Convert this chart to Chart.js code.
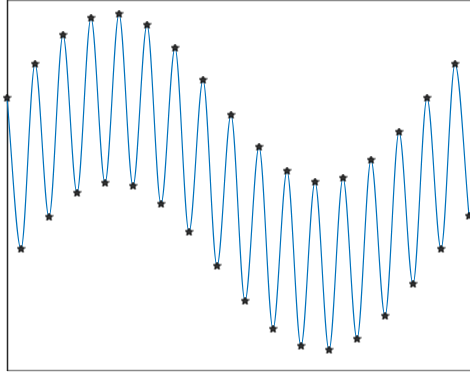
<!DOCTYPE html>
<html>
<head>
<meta charset="utf-8">
<script src="https://cdn.jsdelivr.net/npm/chart.js@4/dist/chart.umd.min.js"></script>
<style>
	html, body { margin: 0; padding: 0; background: #fff; }
	#chart { display: block; }
</style>
</head>
<body>
<canvas id="chart" width="470" height="372"></canvas>
<script>
// sample positions (one every half-period) and the values
const sampleIndex = [
	0, 1, 2, 3, 4, 5, 6, 7, 8, 9, 10, 11, 12, 13, 14, 15, 16,
	17, 18, 19, 20, 21, 22, 23, 24, 25, 26, 27, 28, 29, 30, 31, 32, 33
];
const signalValues = [
	272, 121, 306, 153, 335, 177, 352, 187, 356, 184, 345, 166, 322, 138, 290, 104, 255,
	69, 223, 41, 199, 24, 188, 20, 192, 31, 210, 54, 238, 86, 272, 121, 306, 154
];
const yRange = [0, 370];
const xRange = [0, 33.07];

// five point star marker
function makeStar(size) {
	const c = document.createElement("canvas");
	c.width = size;
	c.height = size;
	const ctx = c.getContext("2d");
	const cx = size / 2, cy = size / 2;
	const outer = size / 2 - 0.5, inner = outer * 0.45;
	ctx.beginPath();
	for (let i = 0; i < 10; i++) {
		const r = i % 2 == 0 ? outer : inner;
		const a = -Math.PI / 2 + i * Math.PI / 5;
		const px = cx + r * Math.cos(a);
		const py = cy + r * Math.sin(a);
		if (i == 0) ctx.moveTo(px, py); else ctx.lineTo(px, py);
	}
	ctx.closePath();
	ctx.fillStyle = "#333";
	ctx.fill();
	ctx.lineWidth = 1;
	ctx.strokeStyle = "#000";
	ctx.stroke();
	return c;
}
const starMarker = makeStar(9);

// axes box: dark left edge, grey top and bottom
const boxPlugin = {
	id: "box",
	beforeDatasetsDraw(chart) {
		const { ctx, chartArea } = chart;
		ctx.save();
		ctx.lineWidth = 1.5;
		ctx.strokeStyle = "#8a8a8a";
		ctx.beginPath();
		ctx.moveTo(chartArea.left, chartArea.top + 0.5);
		ctx.lineTo(chartArea.right, chartArea.top + 0.5);
		ctx.moveTo(chartArea.left, chartArea.bottom + 0.5);
		ctx.lineTo(chartArea.right, chartArea.bottom + 0.5);
		ctx.stroke();
		ctx.strokeStyle = "#262626";
		ctx.beginPath();
		ctx.moveTo(chartArea.left + 0.5, chartArea.top);
		ctx.lineTo(chartArea.left + 0.5, chartArea.bottom + 1);
		ctx.stroke();
		ctx.restore();
	}
};

new Chart("chart", {
	type: "line",
	data: {
		datasets: [
			{
				data: sampleIndex.map((x, i) => ({ x: x, y: signalValues[i] })),
				borderColor: "#0072BD",
				borderWidth: 1.2,
				cubicInterpolationMode: "monotone",
				pointStyle: starMarker,
				pointRadius: 4.5,
				clip: false,
			},
		],
	},
	options: {
		responsive: false,
		animation: false,
		layout: { autoPadding: false, padding: { left: 7, top: 0, right: 0, bottom: 2 } },
		plugins: {
			legend: { display: false },
			tooltip: { enabled: false },
		},
		scales: {
			x: { type: "linear", display: false, min: xRange[0], max: xRange[1] },
			y: { display: false, min: yRange[0], max: yRange[1] },
		},
	},
	plugins: [boxPlugin],
});
</script>
</body>
</html>
